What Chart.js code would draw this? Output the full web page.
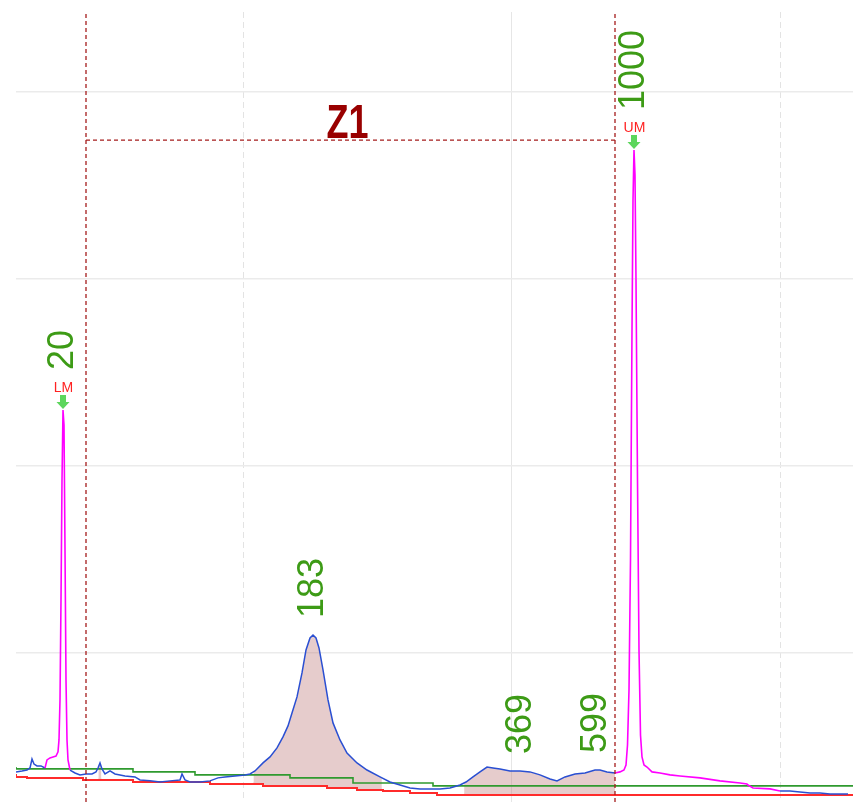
<!DOCTYPE html>
<html><head><meta charset="utf-8">
<script src="https://cdn.jsdelivr.net/npm/chart.js@4.4.1/dist/chart.umd.min.js"></script>
<style>html,body{margin:0;padding:0;background:#fff;overflow:hidden}#wrap{width:853px;height:802px}</style>
</head><body><div id="wrap"><canvas id="c" width="853" height="802"></canvas></div>
<script>
// ---- data ----
const traceTime = [0,6,11,14,16,18,21,25,29,
 31,34,37,40,42,43,44,45,46,47,48,49,50,51,52,54,
 59,64,70,76,80,82,84,86,89,94,99,109,119,124,134,144,154,164,166,169,174,184,194,202,209,219,229,234,239,247,254,261,267,272,276,281,286,290,294,297,300,303,307,312,317,324,331,341,351,364,374,384,394,404,414,424,434,444,450,457,464,471,477,484,494,504,514,524,534,541,549,559,569,579,584,591,599,
 604,608,610,611.5,613,614.5,616,617,618,619,620,621.5,623,624.5,626,628,631,636,644,654,664,684,704,724,731,732,737,754,764,
 774,784,794,804,814,832];
const traceSignal = [36.4,36.9,37.4,38.5,43.3,40.6,39.6,39.6,38.5,
 42.8,43.9,44.4,44.9,47.1,53.5,74.9,128.3,192.5,229.9,221.9,155.1,85.6,53.5,42.8,37.4,
 35.8,34.8,35.3,35.3,36.4,38.5,41.2,38.0,35.3,36.9,35.3,34.2,33.7,32.1,31.6,31.0,31.6,32.1,35.3,32.1,31.0,31.0,31.6,33.2,33.7,34.2,34.8,35.3,36.9,41.2,44.4,49.2,55.1,61.0,67.9,76.5,89.3,101.6,108.0,109.6,108.0,102.7,90.9,74.9,62.6,53.5,46.5,41.2,37.4,33.7,31.0,29.4,27.8,27.3,27.3,27.3,27.8,29.4,31.0,33.7,36.4,39.0,38.5,38.0,36.9,36.9,36.4,34.8,32.6,31.6,33.7,35.3,35.8,37.4,37.4,36.4,35.8,
 36.4,37.4,40.1,50.8,80.2,149.7,272.7,342.2,369.0,355.6,299.5,192.5,101.6,56.1,44.4,40.1,39.0,36.4,35.8,34.8,34.2,33.2,31.6,30.5,29.9,29.4,27.8,27.3,26.2,
 26.2,25.7,25.1,25.1,24.6,24.6];
const markerWindows = [[29, 54], [599, 764]];

const upperBaselineTime   = [0, 117, 179, 274, 337, 417, 477, 837];
const upperBaselineSignal = [39.0, 38.0, 36.4, 34.8, 33.2, 30.5, 28.9, 28.9];
const lowerBaselineTime   = [0, 11, 67, 117, 194, 247, 311, 341, 367, 394, 421, 494, 837];
const lowerBaselineSignal = [35.3, 33.7, 33.2, 32.1, 31.0, 29.9, 28.9, 27.8, 26.7, 26.2, 25.1, 24.1, 24.1];

const zoneName = 'Z1';
const zoneStart = 70, zoneEnd = 599, zoneLevel = 374.3;

const peakLabels  = ['20', '183', '369', '599', '1000'];
const peakTimes   = [47, 297, 505, 580, 618];
const peakHeights = [229.9, 109.6, 36.9, 37.4, 369.0];
const markerNames = ['LM', '', '', '', 'UM'];

const timeMin = 0, timeMax = 837, signalMin = 20.3, signalMax = 442.8;
const gridSignals = [100, 200, 300, 400];
const gridTimesDashed = [227, 764];
const gridTimesSolid = [495];

// ---- derived datasets ----
const inWin = (t) => markerWindows.some(w => t > w[0] && t < w[1]);
const inWinIncl = (t) => markerWindows.some(w => t >= w[0] && t <= w[1]);
const samplePts = traceTime.map((t, i) => ({x: t, y: inWin(t) ? null : traceSignal[i]}));
const markerPts = traceTime.map((t, i) => ({x: t, y: inWinIncl(t) ? traceSignal[i] : null}));
const upperPts = upperBaselineTime.map((t, i) => ({x: t, y: upperBaselineSignal[i]}));
const lowerPts = lowerBaselineTime.map((t, i) => ({x: t, y: lowerBaselineSignal[i]}));

// upper baseline (stepped) value at t
function upperAt(t) {
  let v = upperBaselineSignal[0];
  for (let i = 0; i < upperBaselineTime.length; i++) if (upperBaselineTime[i] <= t) v = upperBaselineSignal[i];
  return v;
}
// shaded peak area: parts of the trace inside the zone that rise above the upper baseline
const zonePts = [];
{
  const idx = traceTime.map((t, i) => i).filter(i => traceTime[i] >= zoneStart && traceTime[i] <= zoneEnd);
  let prevAbove = null;
  idx.forEach((i, k) => {
    const t = traceTime[i], v = traceSignal[i];
    const above = v > upperAt(t);
    if (k > 0 && above !== prevAbove) {
      const j = idx[k - 1];
      const t0 = traceTime[j], v0 = traceSignal[j];
      const d0 = v0 - upperAt(t0), d1 = v - upperAt(t);
      const f = d0 / (d0 - d1);
      const tc = t0 + f * (t - t0), vc = v0 + f * (v - v0);
      if (above) { zonePts.push({x: tc, y: null}); zonePts.push({x: tc, y: vc}); }
      else { zonePts.push({x: tc, y: vc}); zonePts.push({x: tc, y: null}); }
    }
    zonePts.push({x: t, y: above ? v : null});
    prevAbove = above;
  });
}

const zoneDash = [4, 3], zoneColor = '#a51c1c';

const labelPlugin = {
  id: 'peakLabels',
  afterDatasetsDraw(chart) {
    const {ctx} = chart, x = chart.scales.x, y = chart.scales.y;
    ctx.save();
    ctx.font = 'bold 48px "Liberation Sans", Arial, sans-serif';
    ctx.fillStyle = '#990000';
    ctx.textAlign = 'center';
    ctx.textBaseline = 'alphabetic';
    ctx.save();
    ctx.translate(x.getPixelForValue((zoneStart + zoneEnd) / 2) - 3, y.getPixelForValue(zoneLevel) - 2);
    ctx.scale(0.75, 1);
    ctx.fillText(zoneName, 0, 0);
    ctx.restore();

    peakLabels.forEach((lab, i) => {
      const px = x.getPixelForValue(peakTimes[i]);
      const py = y.getPixelForValue(peakHeights[i]);
      const marker = markerNames[i];
      if (marker) {
        ctx.fillStyle = '#5cd65c';
        ctx.beginPath();
        ctx.moveTo(px - 3, py - 15); ctx.lineTo(px + 3, py - 15); ctx.lineTo(px + 3, py - 8);
        ctx.lineTo(px + 6.5, py - 8); ctx.lineTo(px, py - 1); ctx.lineTo(px - 6.5, py - 8);
        ctx.lineTo(px - 3, py - 8); ctx.closePath(); ctx.fill();
        ctx.font = '14px "Liberation Sans", Arial, sans-serif';
        ctx.fillStyle = '#ff2222';
        ctx.textAlign = 'center';
        ctx.textBaseline = 'alphabetic';
        ctx.fillText(marker, px + 0.5, py - 18);
      }
      const off = marker ? 40 : 17;
      ctx.save();
      ctx.translate(px, py - off);
      ctx.rotate(-Math.PI / 2);
      ctx.font = '36px "Liberation Sans", Arial, sans-serif';
      ctx.fillStyle = '#3d9b16';
      ctx.textAlign = 'left';
      ctx.textBaseline = 'middle';
      ctx.fillText(lab, 0, 0);
      ctx.restore();
    });
    ctx.restore();
  }
};

new Chart(document.getElementById('c').getContext('2d'), {
  type: 'line',
  data: {
    datasets: [
      {data: [{x: zoneStart, y: signalMin}, {x: zoneStart, y: signalMax}], borderColor: zoneColor, borderWidth: 1.3, borderDash: zoneDash, order: 0},
      {data: [{x: zoneEnd, y: signalMin}, {x: zoneEnd, y: signalMax}], borderColor: zoneColor, borderWidth: 1.3, borderDash: zoneDash, order: 0},
      {data: [{x: zoneStart, y: zoneLevel}, {x: zoneEnd, y: zoneLevel}], borderColor: zoneColor, borderWidth: 1.3, borderDash: zoneDash, order: 0},
      {data: markerPts, borderColor: '#ff00ff', borderWidth: 1.6, spanGaps: false, order: 1},
      {data: samplePts, borderColor: '#2a4fd2', borderWidth: 1.5, spanGaps: false, order: 2},
      {data: upperPts, borderColor: '#2f9a2f', borderWidth: 1.6, stepped: 'after', order: 3},
      {data: lowerPts, borderColor: '#ff2b2b', borderWidth: 2, stepped: 'after', order: 4},
      {data: zonePts, borderWidth: 0, borderColor: 'rgba(0,0,0,0)', backgroundColor: 'rgba(190,120,120,0.38)', fill: {target: 6}, spanGaps: false, order: 5}
    ]
  },
  options: {
    responsive: false,
    animation: false,
    devicePixelRatio: 1,
    layout: {padding: {left: 16, top: 12, right: 0, bottom: 0}},
    elements: {point: {radius: 0, hoverRadius: 0}, line: {tension: 0}},
    plugins: {legend: {display: false}, tooltip: {enabled: false}},
    scales: {
      x: {type: 'linear', min: timeMin, max: timeMax,
          afterBuildTicks: a => { a.ticks = gridTimesDashed.map(v => ({value: v})); },
          ticks: {display: false}, grid: {color: '#e3e3e3', lineWidth: 1, drawTicks: false},
          border: {display: false, dash: [6, 4]}},
      x2: {type: 'linear', position: 'bottom', min: timeMin, max: timeMax,
          afterBuildTicks: a => { a.ticks = gridTimesSolid.map(v => ({value: v})); },
          ticks: {display: false}, grid: {color: '#e6e6e6', lineWidth: 1, drawTicks: false},
          border: {display: false}},
      y: {type: 'linear', min: signalMin, max: signalMax,
          afterBuildTicks: a => { a.ticks = gridSignals.map(v => ({value: v})); },
          ticks: {display: false}, grid: {color: '#ebebeb', lineWidth: 1.6, drawTicks: false},
          border: {display: false}}
    }
  },
  plugins: [labelPlugin]
});
</script></body></html>
